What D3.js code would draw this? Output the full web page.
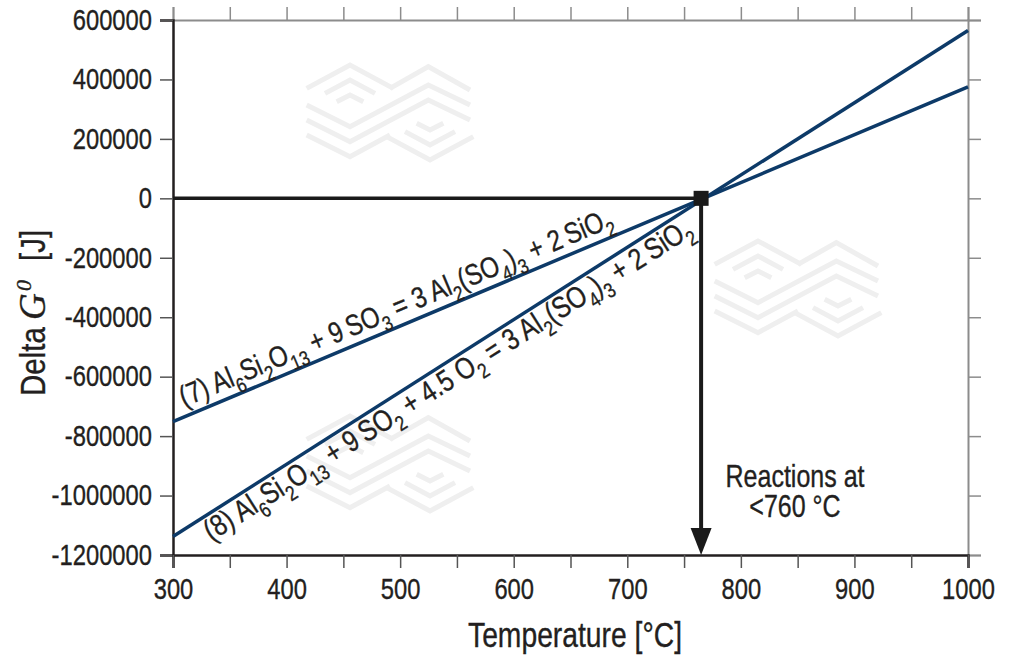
<!DOCTYPE html>
<html>
<head>
<meta charset="utf-8">
<script src="https://cdn.jsdelivr.net/npm/d3@7"></script>
<style>
  html, body { margin: 0; padding: 0; background: #ffffff; }
  svg { display: block; }
</style>
</head>
<body>
<svg id="chart" width="1024" height="670"></svg>
<script>
// ---- data ----
const temperatures = [300, 1000];
const deltaG7 = [-751500, 375000];
const deltaG8 = [-1138000, 565000];
const xTickValues = [300, 350, 400, 450, 500, 550, 600, 650, 700, 750, 800, 850, 900, 950, 1000];
const xTickLabels = ["300", "400", "500", "600", "700", "800", "900", "1000"];
const yTickValues = [600000, 400000, 200000, 0, -200000, -400000, -600000, -800000, -1000000, -1200000];
const markerPoint = [765, 0];
const label7Parts = [["(7) Al",0],["6",1],["Si",0],["2",1],["O",0],["13",1],[" + 9\u2009SO",0],["3",1],[" = 3 Al",0],["2",1],["(SO",0],["4",1],[")",0],["3",1],[" + 2\u2009SiO",0],["2",1]];
const label8Parts = [["(8) Al",0],["6",1],["Si",0],["2",1],["O",0],["13",1],[" + 9\u2009SO",0],["2",1],[" + 4.5 O",0],["2",1],[" = 3 Al",0],["2",1],["(SO",0],["4",1],[")",0],["3",1],[" + 2\u2009SiO",0],["2",1]];
const annotationLines = ["Reactions at", "<760 °C"];
const xTitle = "Temperature [°C]";
const yTitleParts = ["Delta", "G", "0", "[J]"];

// ---- drawing ----
const svg = d3.select("#chart");
const x = d3.scaleLinear().domain([300, 1000]).range([173, 968]);
const y = d3.scaleLinear().domain([-1200000, 600000]).range([555, 20]);
const FONT = "'Liberation Sans', Arial, sans-serif";
const SERIF = "'Liberation Serif', 'Times New Roman', serif";
const NARROW = 0.82;
const dark = "#231f20", grey = "#8c8c8c", navy = "#0d3a68";

// condense a text element horizontally around its anchor point
function condense(sel) {
  sel.each(function() {
    const t = d3.select(this);
    const tx = +t.attr("x") || 0, ty = +t.attr("y") || 0;
    const prev = t.attr("transform") || "";
    t.attr("x", 0).attr("y", 0).attr("transform", `${prev} translate(${tx},${ty}) scale(${NARROW},1)`)
      .attr("stroke", dark).attr("stroke-width", 0.35);
  });
}

// watermark logos (decorative)
const wm = [
  [[20,100],[150,30],[280,100]], [[75,115],[150,75],[225,115]], [[110,140],[150,120],[190,140]],
  [[20,150],[150,215],[385,90],[510,150]], [[20,195],[150,260],[385,135],[510,195]], [[20,240],[150,305],[270,240]],
  [[260,245],[390,315],[520,245]], [[315,230],[390,270],[465,230]], [[350,205],[390,225],[430,205]],
  [[270,100],[385,35],[510,105]]
];
const wmOrigins = [[300,55],[708,231],[300,406]];
const wmG = svg.append("g");
wmOrigins.forEach(o => {
  wm.forEach(pl => {
    wmG.append("path")
      .attr("d", d3.line()(pl.map(p => [o[0] + p[0]/3, o[1] + p[1]/3])))
      .attr("fill", "none").attr("stroke", "#efefef").attr("stroke-width", 5);
  });
});

// axes
function styleAxis(g, col, w, tcol) {
  g.select(".domain").attr("stroke", col).attr("stroke-width", w);
  g.selectAll(".tick line").attr("stroke", tcol).attr("stroke-width", 1.5);
  g.selectAll(".tick text").attr("fill", dark).style("font-family", FONT).style("font-size", "29px");
}
const gTop = svg.append("g").attr("transform", `translate(0,${y(600000)})`)
  .call(d3.axisTop(x).tickValues(xTickValues).tickFormat("").tickSize(13));
styleAxis(gTop, grey, 2, grey);
const gRight = svg.append("g").attr("transform", `translate(${x(1000)},0)`)
  .call(d3.axisRight(y).tickValues(yTickValues).tickFormat("").tickSize(13));
styleAxis(gRight, grey, 2, grey);
const gLeft = svg.append("g").attr("transform", `translate(${x(300)},0)`)
  .call(d3.axisLeft(y).tickValues(yTickValues).tickFormat(d => String(d)).tickSize(13).tickPadding(8));
styleAxis(gLeft, dark, 2.5, "#555");
condense(gLeft.selectAll(".tick text"));
const gBottom = svg.append("g").attr("transform", `translate(0,${y(-1200000)})`)
  .call(d3.axisBottom(x).tickValues(xTickValues)
    .tickFormat(d => xTickLabels.includes(String(d)) ? String(d) : "").tickSize(13).tickPadding(9));
styleAxis(gBottom, dark, 2.5, "#555");
gBottom.selectAll(".tick text").attr("dy", "0.75em");
condense(gBottom.selectAll(".tick text"));

// reaction lines
const line = d3.line().x(d => x(d[0])).y(d => y(d[1]));
[deltaG7, deltaG8].forEach(s => {
  svg.append("path").datum(temperatures.map((t,i) => [t, s[i]]))
    .attr("d", line).attr("fill", "none").attr("stroke", navy).attr("stroke-width", 3.5);
});

// zero line to marker, arrow down
svg.append("line").attr("x1", x(300)).attr("x2", x(markerPoint[0]))
  .attr("y1", y(markerPoint[1])).attr("y2", y(markerPoint[1]))
  .attr("stroke", "#1a1a1a").attr("stroke-width", 3.5);
const ax = x(markerPoint[0]), ay0 = y(markerPoint[1]), ay1 = y(-1200000);
svg.append("line").attr("x1", ax).attr("x2", ax).attr("y1", ay0).attr("y2", ay1 - 20)
  .attr("stroke", "#1a1a1a").attr("stroke-width", 4);
svg.append("path").attr("d", `M${ax-10.5},${ay1-27}L${ax+10.5},${ay1-27}L${ax},${ay1}Z`).attr("fill", "#1a1a1a");
svg.append("rect").attr("x", ax - 7.5).attr("y", ay0 - 7.5).attr("width", 15).attr("height", 15).attr("fill", "#1a1a1a");

// rotated equation labels
function eqLabel(series, parts, tStart, normalOff, size) {
  const x0 = x(temperatures[0]), y0 = y(series[0]), x1 = x(temperatures[1]), y1 = y(series[1]);
  const L = Math.hypot(x1 - x0, y1 - y0);
  const ux = (x1 - x0) / L, uy = (y1 - y0) / L;
  const nx = -uy, ny = ux; // normal pointing down-right
  const px = x(tStart), py = y0 + (px - x0) * (uy / ux);
  const ang = Math.atan2(y1 - y0, x1 - x0) * 180 / Math.PI;
  const t = svg.append("text")
    .attr("transform", `translate(${px + nx*normalOff},${py + ny*normalOff}) rotate(${ang}) scale(${NARROW},1)`)
    .attr("fill", dark).attr("stroke", dark).attr("stroke-width", 0.35)
    .style("font-family", FONT).style("font-size", size + "px");
  let inSub = false;
  parts.forEach(([s, sub]) => {
    const ts = t.append("tspan").text(s);
    if (sub) ts.style("font-size", (size*0.7) + "px");
    if (sub && !inSub) { ts.attr("dy", size*0.3); inSub = true; }
    else if (!sub && inSub) { ts.attr("dy", -size*0.3); inSub = false; }
  });
}
eqLabel(deltaG7, label7Parts, 313, -9, 29.5);
eqLabel(deltaG8, label8Parts, 322, 25, 30);

// annotation
annotationLines.forEach((s, i) => {
  const a = svg.append("text").attr("text-anchor", "middle").attr("x", 795).attr("y", 487 + i*30)
    .attr("fill", dark).style("font-family", FONT).style("font-size", "30.5px").text(s);
  condense(a);
});

// axis titles
const xt = svg.append("text").attr("text-anchor", "middle")
  .attr("x", 575).attr("y", 647).attr("fill", dark)
  .style("font-family", FONT).style("font-size", "34.5px").text(xTitle);
condense(xt);
// y title: pieces placed along the rotated baseline
function yPiece(txt, yPos, base, fam, size, italic, narrow) {
  return svg.append("text")
    .attr("transform", `translate(${base},${yPos}) rotate(-90) scale(${narrow ? NARROW : 1},1)`)
    .attr("fill", dark).attr("stroke", dark).attr("stroke-width", 0.35)
    .style("font-family", fam).style("font-size", size + "px")
    .style("font-style", italic ? "italic" : "normal").text(txt);
}
yPiece(yTitleParts[0], 396, 45, FONT, 36, false, true);
yPiece(yTitleParts[1], 320, 45, SERIF, 37, true, false);
yPiece(yTitleParts[2], 291, 31, SERIF, 22, true, false);
yPiece(yTitleParts[3], 261, 45, FONT, 36, false, true);
</script>
</body>
</html>
